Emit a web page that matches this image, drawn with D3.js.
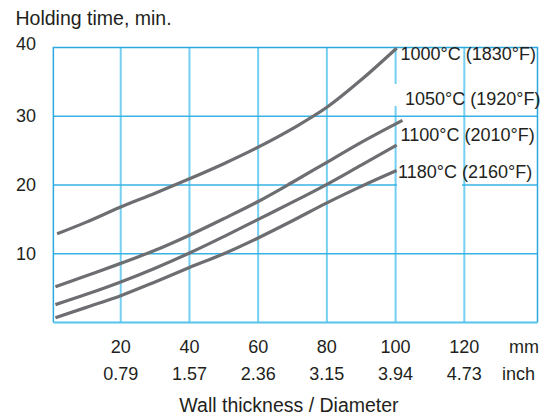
<!DOCTYPE html>
<html>
<head>
<meta charset="utf-8">
<script src="https://cdn.jsdelivr.net/npm/d3@7"></script>
<style>
  html, body { margin: 0; padding: 0; background: #fff; }
  svg { display: block; font-family: "Liberation Sans", Arial, Helvetica, sans-serif; }
</style>
</head>
<body>
<svg id="chart" width="551" height="417"></svg>
<script>
// ---- data ----
const xTicksMm = [20, 40, 60, 80, 100, 120];
const xTicksInch = ["0.79", "1.57", "2.36", "3.15", "3.94", "4.73"];
const yTicks = [10, 20, 30, 40];

const seriesNames = ["1000°C (1830°F)", "1050°C (1920°F)", "1100°C (2010°F)", "1180°C (2160°F)"];

const thick1000 = [1.5, 10, 20, 30, 40, 50, 60, 70, 80, 90, 100.3];
const time1000  = [12.9, 14.6, 16.8, 18.8, 20.9, 23.1, 25.5, 28.2, 31.3, 35.3, 39.9];

const thick1050 = [1, 10, 20, 30, 40, 50, 60, 70, 80, 90, 102];
const time1050  = [5.2, 6.8, 8.6, 10.5, 12.7, 15.1, 17.6, 20.4, 23.3, 26.2, 29.4];

const thick1100 = [1, 10, 20, 30, 40, 50, 60, 70, 80, 90, 100.3];
const time1100  = [2.6, 4.1, 5.9, 7.9, 10.1, 12.5, 15.0, 17.5, 20.1, 22.9, 25.8];

const thick1180 = [1, 10, 20, 30, 40, 50, 60, 70, 80, 90, 100.3];
const time1180  = [0.7, 2.2, 3.9, 5.9, 8.0, 10.0, 12.3, 14.8, 17.4, 19.8, 22.1];

const yTitle = "Holding time, min.";
const xTitle = "Wall thickness / Diameter";
const unitMm = "mm";
const unitInch = "inch";

// ---- layout ----
const svg = d3.select("#chart");
const x = d3.scaleLinear().domain([0, 141.3]).range([52, 537.5]);
const y = d3.scaleLinear().domain([0, 40]).range([322.5, 47.5]);
const xLeft = 0.4, xRight = 141.3;

const textColor = "#231f20";
const lineColor = "#6d6e71";
const gridV = "#74cff2";
const gridH = "#38b2e5";
const frameColor = "#2aa8df";

// vertical grid lines
svg.append("g").selectAll("line").data(xTicksMm).join("line")
  .attr("x1", d => x(d)).attr("x2", d => x(d))
  .attr("y1", y(40)).attr("y2", y(0))
  .attr("stroke", gridV).attr("stroke-width", 2);

// horizontal grid lines
svg.append("g").selectAll("line").data(yTicks.filter(d => d < 40)).join("line")
  .attr("x1", x(xLeft)).attr("x2", x(xRight))
  .attr("y1", d => y(d)).attr("y2", d => y(d))
  .attr("stroke", gridH).attr("stroke-width", 1.5);

// frame
const frame = svg.append("g").attr("fill", "none");
frame.append("path")
  .attr("d", `M${x(xLeft)},${y(0)}V${y(40)}H${x(xRight)}V${y(0)}`)
  .attr("stroke", frameColor).attr("stroke-width", 1.5);
frame.append("line")
  .attr("x1", x(xLeft)).attr("x2", x(xRight))
  .attr("y1", y(0)).attr("y2", y(0))
  .attr("stroke", "#56c3ec").attr("stroke-width", 2);

// label layout (positions of the curve labels)
const labelLayout = [
  { x: 400.5, base: 59.5, box: null },
  { x: 405,   base: 105,  box: [393, 84, 69, 22] },
  { x: 400.5, base: 140.7, box: null },
  { x: 398,   base: 178.3, box: [397, 181, 65, 6] }
];

// white boxes behind labels
svg.append("g").selectAll("rect").data(labelLayout.filter(d => d.box)).join("rect")
  .attr("x", d => d.box[0]).attr("y", d => d.box[1])
  .attr("width", d => d.box[2]).attr("height", d => d.box[3])
  .attr("fill", "#fff");

// curves
const series = [
  d3.zip(thick1000, time1000),
  d3.zip(thick1050, time1050),
  d3.zip(thick1100, time1100),
  d3.zip(thick1180, time1180)
];
const line = d3.line().x(d => x(d[0])).y(d => y(d[1])).curve(d3.curveMonotoneX);
svg.append("g").selectAll("path").data(series).join("path")
  .attr("d", line)
  .attr("fill", "none")
  .attr("stroke", lineColor)
  .attr("stroke-width", 3.2)
  .attr("stroke-linecap", "butt");

// curve labels
svg.append("g").selectAll("text").data(seriesNames).join("text")
  .attr("x", (d, i) => labelLayout[i].x)
  .attr("y", (d, i) => labelLayout[i].base)
  .attr("font-size", 18)
  .attr("fill", textColor)
  .text(d => d);

// y tick labels
svg.append("g").selectAll("text").data(yTicks).join("text")
  .attr("x", 36)
  .attr("y", d => y(d) + (d === 40 ? 2 : 5.8))
  .attr("text-anchor", "end")
  .attr("font-size", 18)
  .attr("fill", textColor)
  .text(d => d);

// x tick labels (mm)
svg.append("g").selectAll("text").data(xTicksMm).join("text")
  .attr("x", d => x(d))
  .attr("y", 353.3)
  .attr("text-anchor", "middle")
  .attr("font-size", 18)
  .attr("fill", textColor)
  .text(d => d);

// x tick labels (inch)
svg.append("g").selectAll("text").data(xTicksInch).join("text")
  .attr("x", (d, i) => x(xTicksMm[i]))
  .attr("y", 380)
  .attr("text-anchor", "middle")
  .attr("font-size", 18)
  .attr("fill", textColor)
  .text(d => d);

// units
svg.append("text").attr("x", 509).attr("y", 353.3).attr("font-size", 18)
  .attr("fill", textColor).text(unitMm);
svg.append("text").attr("x", 502).attr("y", 380).attr("font-size", 18)
  .attr("fill", textColor).text(unitInch);

// titles
svg.append("text").attr("x", 15.5).attr("y", 25).attr("font-size", 19.5)
  .attr("fill", textColor).text(yTitle);
svg.append("text").attr("x", 289).attr("y", 412).attr("font-size", 19.5)
  .attr("text-anchor", "middle").attr("fill", textColor).text(xTitle);
</script>
</body>
</html>
